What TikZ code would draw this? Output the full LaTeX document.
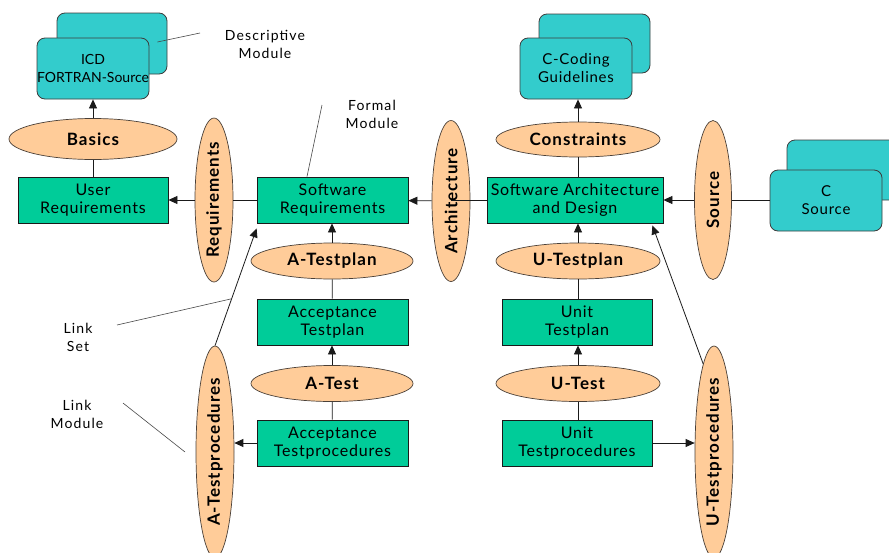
\documentclass[tikz,border=0pt]{standalone}
\usepackage{fontspec}
\setmainfont{Lato}
\newfontfamily\boxfont[LetterSpace=5]{Lato}
\newfontfamily\linkfont[LetterSpace=6]{Lato}
\newfontfamily\notefont[LetterSpace=8]{Lato}
\usetikzlibrary{shapes.geometric,arrows.meta,calc}

\definecolor{boxgreen}{HTML}{00CC99}
\definecolor{peach}{HTML}{FFCC99}
\definecolor{cyanbox}{HTML}{33CCCC}
\definecolor{edge}{HTML}{1A1A1A}
\definecolor{rim}{HTML}{4A4038}

\tikzset{
  module/.style={draw=edge, line width=0.8pt, fill=boxgreen, minimum width=151pt,
    minimum height=46pt, inner sep=0pt, align=center,
    font=\boxfont\fontsize{16}{18}\selectfont},
  linknode/.style={ellipse, draw=rim, line width=0.7pt, fill=peach, inner sep=0pt,
    font=\linkfont\fontsize{17}{18}\selectfont\bfseries},
  hlink/.style={linknode, minimum width=162pt, minimum height=36pt},
  vlink/.style={linknode, minimum width=38pt, minimum height=161pt},
  descbox/.style={draw=edge!85, line width=0.8pt, fill=cyanbox, rounded corners=8pt,
    minimum width=112pt, minimum height=61pt, inner sep=0pt, align=center,
    font=\boxfont\fontsize{15}{18}\selectfont},
  conn/.style={draw=edge, line width=0.8pt},
  arr/.style={conn, -{Triangle[length=9pt,width=8pt]}},
  note/.style={align=center, font=\notefont\fontsize{14}{18}\selectfont},
  leader/.style={draw=edge!80, line width=0.6pt},
}

\begin{document}
\begin{tikzpicture}[x=1pt, y=-1pt]
\useasboundingbox (0,0) rectangle (889,552);

% descriptive modules (stacked cards)
\node[descbox, minimum width=110pt] (icdback) at (112,43.5) {};
\node[descbox, font=\fontsize{14}{18}\selectfont] (icd) at (93,68.5) {ICD\\FORTRAN-Source};
\node[descbox, minimum width=111pt, minimum height=59pt] (ccback) at (594.5,43.5) {};
\node[descbox] (cc) at (576,68.5) {C-Coding\\Guidelines};
\node[descbox, minimum width=116pt, minimum height=60pt] (csback) at (845,170) {};
\node[descbox] (cs) at (826,200.5) {C\\Source};

% formal modules
\node[module, minimum width=150pt] (ur) at (93,200) {User\\Requirements};
\node[module] (sr) at (332.5,200) {Software\\Requirements};
\node[module, minimum width=176pt] (sad) at (575,200) {Software Architecture\\and Design};
\node[module] (atp) at (332.5,322) {Acceptance\\Testplan};
\node[module] (atproc) at (332.5,443) {Acceptance\\Testprocedures};
\node[module, minimum width=150pt] (utp) at (577,322) {Unit\\Testplan};
\node[module, minimum width=150pt] (utproc) at (577,443) {Unit\\Testprocedures};

% link modules
\node[hlink, minimum width=168pt, minimum height=41pt] (basics) at (93,139) {Basics};
\node[hlink, minimum width=164pt, minimum height=35pt] (cons) at (578,139.5) {Constraints};
\node[hlink] (atplan) at (332,261) {A-Testplan};
\node[hlink] (atest) at (332,383.5) {A-Test};
\node[hlink, minimum width=164pt] (utplan) at (578,261) {U-Testplan};
\node[hlink, minimum width=164pt] (utest) at (578,383.5) {U-Test};
\node[vlink] (req) at (214,200) {\rotatebox{90}{Requirements}};
\node[vlink] (arch) at (451,201) {\rotatebox{90}{Architecture}};
\node[vlink, minimum width=37pt, minimum height=159pt] (src) at (713,200) {\rotatebox{90}{Source}};
\node[vlink, minimum height=212pt] (atprocs) at (215,452) {\rotatebox{90}{A-Testprocedures}};
\node[vlink, minimum height=212pt] (utprocs) at (714,452) {\rotatebox{90}{U-Testprocedures}};

% connectors of the left column
\draw[arr] (basics) -- (icd);
\draw[conn] (ur) -- (basics);
\draw[conn] (sr) -- (req);
\draw[arr] (req) -- (ur);

% connectors of the middle column
\draw[conn] (sad) -- (sad -| arch);
\draw[arr] (arch) -- (sr);
\draw[arr] (atplan) -- (atplan |- sr.south);
\draw[conn] (atp) -- (atplan);
\draw[arr] (atest) -- (atest |- atp.south);
\draw[conn] (atproc) -- (atest);
\draw[arr] (atproc.west) -- (atproc.west -| atprocs.east);

% connectors of the right column
\draw[conn] (cs) -- (cs -| src.east);
\draw[arr] (src) -- (sad);
\draw[conn] (cons.south |- sad.north) -- (cons.south);
\draw[arr] (cons.north) -- (cons.north |- cc.south);
\draw[arr] (utplan.north) -- (utplan.north |- sad.south);
\draw[conn] (utplan.south |- utp.north) -- (utplan.south);
\draw[arr] (utest.north) -- (utest.north |- utp.south);
\draw[conn] (utest.south |- utproc.north) -- (utest.south);
\draw[arr] (utproc.east) -- (utproc.east -| utprocs.west);

% trace links from the test procedures
\coordinate (srfoot) at ($(sr.south west)+(0,5)$);
\coordinate (sadfoot) at ($(sad.south east)+(-11,2)$);
\draw[arr] (atprocs.north) -- (srfoot);
\draw[arr] (utprocs.97) -- (sadfoot);

% annotations
\node[note] (descnote) at (265,44) {Descriptive\\Module};
\coordinate (descA) at (200,33);
\draw[leader] (descA) -- ($(icdback.east)+(-10,-1.5)$);

\node[note] (formalnote) at (372,114) {Formal\\Module};
\coordinate (formalA) at (322,105);
\draw[leader] (formalA) -- ($(sr.north)+(-25.5,0)$);

\node[note] (linkset) at (78,337) {Link\\Set};
\coordinate (linksetA) at (117,325);
\draw[leader] (linksetA) -- ($(atprocs.north)!0.4!(srfoot)$);

\node[note] (linkmod) at (77,414) {Link\\Module};
\coordinate (linkmodA) at (123,403);
\coordinate (linkmodB) at (185,452);
\draw[leader] (linkmodA) -- (linkmodB);
\end{tikzpicture}
\end{document}
